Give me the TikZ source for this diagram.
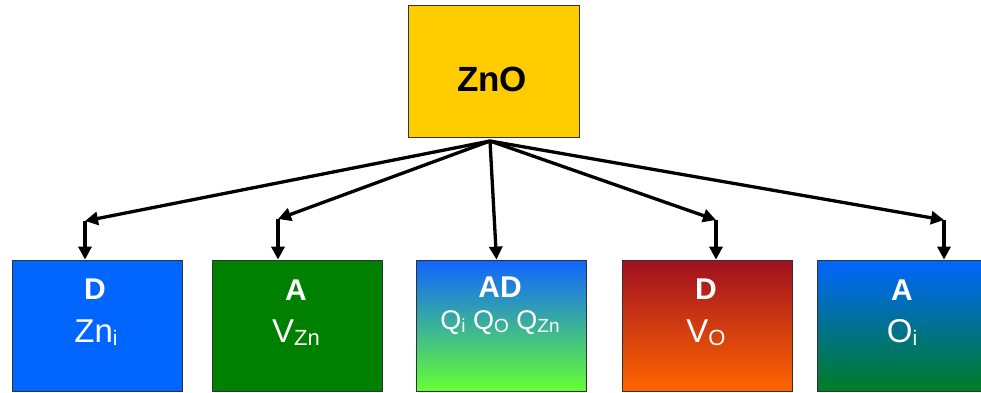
\documentclass[tikz,border=0pt]{standalone}
\usepackage{fontspec}
\setmainfont{Liberation Sans}
\usetikzlibrary{arrows.meta}
\definecolor{znoyellow}{RGB}{255,204,0}
\definecolor{dblue}{RGB}{0,102,255}
\definecolor{agreen}{RGB}{0,128,0}
\definecolor{adtop}{RGB}{16,100,255}
\definecolor{admid}{RGB}{75,200,185}
\definecolor{adbot}{RGB}{102,255,51}
\definecolor{vtop}{RGB}{160,16,32}
\definecolor{vmid}{RGB}{215,65,25}
\definecolor{vbot}{RGB}{255,102,0}
\definecolor{otop}{RGB}{0,102,255}
\definecolor{omid}{RGB}{0,100,170}
\definecolor{obot}{RGB}{0,125,35}
\definecolor{edge}{RGB}{50,50,50}
\newcommand\mysub[2][21]{\raisebox{-3.5pt}{\fontsize{#1}{#1}\selectfont #2}}
\begin{document}
\begin{tikzpicture}[x=1pt,y=-1pt,
  box/.style={draw=edge, line width=0.8pt, rectangle, inner sep=0pt,
    minimum width=170pt, minimum height=131pt},
  conn/.style={line width=3.3pt, -{Triangle[length=13pt,width=13pt]}},
  boldlbl/.style={text=white, anchor=base, inner sep=0pt,
    font=\fontsize{30}{30}\selectfont\bfseries},
  mainlbl/.style={text=white, anchor=base, inner sep=0pt,
    font=\fontsize{33}{33}\selectfont},
  qlbl/.style={text=white, anchor=base, inner sep=0pt,
    font=\fontsize{27}{27}\selectfont}]
\useasboundingbox (0,0) rectangle (981,392);
\begin{scope}
\clip (0,0) rectangle (981,392);
% top box
\node[box, fill=znoyellow, minimum width=171pt, minimum height=132pt] (zno) at (493.5,71) {};
\node[anchor=base, inner sep=0pt, font=\fontsize{35}{35}\selectfont\bfseries] (znolbl) at (492,91) {ZnO};
% bottom boxes
\node[box, fill=dblue] (b1) at (97,325.5) {};
\node[box, fill=agreen] (b2) at (297.5,325.5) {};
\node[box, shading=axis, top color=adtop, middle color=admid, bottom color=adbot] (b3) at (501.5,325.5) {};
\node[box, shading=axis, top color=vtop, middle color=vmid, bottom color=vbot] (b4) at (707,325.5) {};
\node[box, shading=axis, top color=otop, middle color=omid, bottom color=obot] (b5) at (902,325.5) {};
% labels
\node[boldlbl] (l1a) at (95,299) {D};
\node[mainlbl] (l1b) at (96,342) {Zn\mysub{i}};
\node[boldlbl] (l2a) at (296,300) {A};
\node[mainlbl] (l2b) at (296,342) {V\mysub[22]{Zn}};
\node[boldlbl] (l3a) at (500,297) {AD};
\node[qlbl] (l3b) at (500,329) {Q\mysub[19]{i} Q\mysub[19]{O} Q\mysub[19]{Zn}};
\node[boldlbl] (l4a) at (706,299) {D};
\node[mainlbl] (l4b) at (706,342) {V\mysub[22]{O}};
\node[boldlbl] (l5a) at (902,300) {A};
\node[mainlbl] (l5b) at (902,342) {O\mysub{i}};
% connectors
\coordinate (src) at (490,141);
\coordinate (e1) at (85,221);
\coordinate (e2) at (278,219);
\coordinate (e4) at (716,220);
\coordinate (e5) at (944,220);
\draw[conn] (src) -- (e1);
\draw[conn] (e1) -- (e1 |- b1.north);
\draw[conn] (src) -- (e2);
\draw[conn] (e2) -- (e2 |- b2.north);
\draw[conn] (src) -- ([xshift=-5pt]b3.north);
\draw[conn] (src) -- (e4);
\draw[conn] (e4) -- (e4 |- b4.north);
\draw[conn] (src) -- (e5);
\draw[conn] (e5) -- (e5 |- b5.north);
\end{scope}
\end{tikzpicture}
\end{document}
